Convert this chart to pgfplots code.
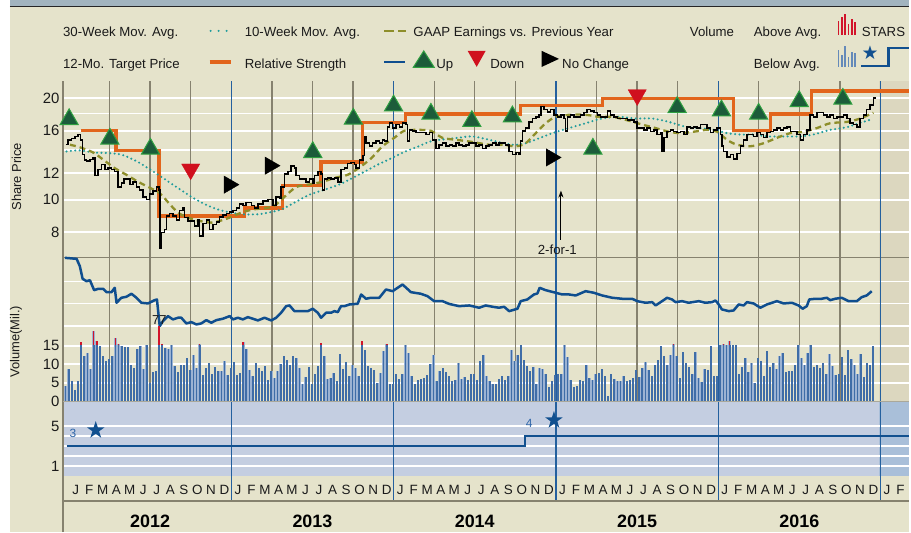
\documentclass[border=0pt]{standalone}
\usepackage{fontspec}
\setmainfont{Liberation Sans}
\newfontfamily\dejavu{DejaVu Sans}
\usepackage{pgfplots}
\usepackage{pgfplotstable}
\pgfplotsset{compat=1.18}
\usetikzlibrary{arrows.meta}

\definecolor{bg}{HTML}{E5E3CB}
\definecolor{bgdark}{HTML}{DCD7BF}
\definecolor{topband}{HTML}{A2B4BF}
\definecolor{starbg}{HTML}{C4CEE1}
\definecolor{starbgdark}{HTML}{A9BFD9}
\definecolor{gridgray}{HTML}{86826F}
\definecolor{yearblue}{HTML}{24609E}
\definecolor{tporange}{HTML}{E2651C}
\definecolor{mateal}{HTML}{1F9C9C}
\definecolor{maolive}{HTML}{8E8E2A}
\definecolor{rsblue}{HTML}{0F4E8F}
\definecolor{volblue}{HTML}{3F6DA7}
\definecolor{voledge}{HTML}{9CB3D3}
\definecolor{volred}{HTML}{D2142A}
\definecolor{upgreen}{HTML}{1C5C3A}
\definecolor{upedge}{HTML}{2FA040}
\definecolor{downred}{HTML}{D0101E}
\definecolor{txt}{HTML}{1A1A1A}
\definecolor{starline}{HTML}{11508F}
\definecolor{starlabel}{HTML}{2C64A8}

\pgfdeclareplotmark{fstar}{%
  \pgfpathmoveto{\pgfpointpolar{90}{\pgfplotmarksize}}%
  \pgfpathlineto{\pgfpointpolar{126}{0.382*\pgfplotmarksize}}%
  \pgfpathlineto{\pgfpointpolar{162}{\pgfplotmarksize}}%
  \pgfpathlineto{\pgfpointpolar{198}{0.382*\pgfplotmarksize}}%
  \pgfpathlineto{\pgfpointpolar{234}{\pgfplotmarksize}}%
  \pgfpathlineto{\pgfpointpolar{270}{0.382*\pgfplotmarksize}}%
  \pgfpathlineto{\pgfpointpolar{306}{\pgfplotmarksize}}%
  \pgfpathlineto{\pgfpointpolar{342}{0.382*\pgfplotmarksize}}%
  \pgfpathlineto{\pgfpointpolar{18}{\pgfplotmarksize}}%
  \pgfpathlineto{\pgfpointpolar{54}{0.382*\pgfplotmarksize}}%
  \pgfpathclose\pgfusepathqfill}

\pgfplotsset{
  panel/.style={scale only axis, width=848bp, xmin=2011.9625, xmax=2017.178,
    anchor=south west, axis line style={draw=none}, major tick length=0pt,
    minor tick length=0pt, xtick=\empty, ytick=\empty,
    tick label style={font=\fontsize{15}{15}\selectfont, text=txt},
    /pgf/number format/assume math mode=true},
}

% weekly volume (millions), first week of 2012 onwards
\pgfplotstableread{
v
4.0
8.8
5.4
3.1
5.6
15.9
12.3
13.0
8.7
18.9
16.2
15.0
12.3
11.0
11.4
12.3
17.1
15.5
15.0
14.6
14.6
9.9
9.0
14.1
15.0
8.8
15.3
4.9
7.8
8.1
77
15.5
14.4
14.2
15.1
9.6
7.8
9.7
9.7
11.7
8.5
12.6
9.0
15.5
7.2
9.0
10.3
7.5
9.3
8.1
8.1
11.0
7.2
9.0
10.5
7.2
7.6
15.9
14.1
8.4
6.7
10.3
9.0
8.1
9.4
5.7
8.1
6.3
8.1
10.2
12.3
11.2
9.9
12.3
11.7
9.0
4.8
6.6
9.2
4.8
7.5
9.6
15.7
12.3
6.0
6.3
7.6
5.6
12.8
8.7
10.5
6.7
9.9
9.0
6.9
16.2
13.9
9.4
9.0
8.5
4.9
7.6
13.7
15.5
4.8
4.8
7.4
6.0
7.4
15.1
13.0
6.9
4.8
5.8
6.0
6.3
7.2
10.1
12.6
5.4
8.1
9.0
7.9
6.9
5.4
5.8
10.3
6.0
6.5
5.8
7.5
7.5
5.8
11.0
12.5
6.7
5.6
4.8
4.8
6.0
6.9
5.8
6.9
13.9
10.8
12.5
15.3
11.2
9.6
8.1
9.3
4.8
9.0
8.7
7.5
3.9
5.4
7.0
7.5
7.5
15.3
12.0
5.8
3.9
4.2
5.8
5.4
9.9
6.3
5.7
7.5
7.6
8.7
6.9
1.5
7.5
6.0
5.6
5.4
6.9
5.4
5.8
6.3
8.5
6.6
9.0
10.5
8.4
6.7
9.9
11.2
15.0
12.1
9.9
12.6
15.5
12.3
6.3
13.2
10.3
9.3
7.5
13.2
6.3
5.1
8.7
8.5
15.0
6.9
6.7
15.3
15.5
15.1
16.2
15.3
15.3
7.5
9.3
11.7
7.8
10.3
4.9
11.7
11.0
6.9
13.7
9.3
10.3
8.7
12.3
13.0
7.8
8.1
8.3
9.9
15.3
11.7
9.9
13.0
15.3
9.3
9.9
9.0
10.3
7.5
12.8
9.4
7.2
7.5
12.0
7.2
13.9
11.4
9.9
7.5
12.8
6.6
10.3
9.9
15.0
}\voldata

\begin{document}
\begin{tikzpicture}
\begin{scope}[x=1bp,y=1bp]
\useasboundingbox (0,0) rectangle (911,533);
\fill[white] (0,0) rectangle (911,533);
\fill[bg] (10,0) rectangle (911,526.5);
\fill[topband] (10,527) rectangle (911,533);
\draw[black!85, line width=1.2bp] (10,526.6) -- (911,526.6);
\fill[bgdark] (881,131) rectangle (911,452);
\fill[starbg] (63,56) rectangle (911,131);
\fill[starbgdark] (881,56) rectangle (911,131);
\end{scope}

% ---------- horizontal grids & tick labels ----------
\begin{axis}[panel, at={(63bp,275bp)}, height=177bp, ymode=log, ymin=6.739, ymax=22.50,
  ytick={8,10,12,16,20}, yticklabels={8,10,12,16,20},
  extra y ticks={14,18}, extra y tick labels={}, extra y tick style={grid=major},
  ymajorgrids, grid style={white, line width=1.8bp}]
\addplot[draw=none, forget plot] coordinates {(2014,10)(2015,12)};
\end{axis}
\begin{axis}[panel, at={(63bp,206.3bp)}, height=68.7bp, ymin=8.3, ymax=77,
  ytick={8.3,31,53}, yticklabels={}, ymajorgrids, grid style={white, line width=1.6bp}]
\addplot[draw=none, forget plot] coordinates {(2014,20)(2015,30)};
\end{axis}
\begin{axis}[panel, at={(63bp,131bp)}, height=75.3bp, ymin=0, ymax=20.3,
  ytick={5,10,15}, yticklabels={5,10,15}, extra y ticks={0}, extra y tick labels={0},
  extra y tick style={grid=none},
  ymajorgrids, grid style={white, line width=1.6bp}]
\addplot[draw=none, forget plot] coordinates {(2014,5)(2015,6)};
\end{axis}
\begin{axis}[panel, at={(63bp,56bp)}, height=75bp, ymin=0, ymax=7.5,
  ytick={1,5}, yticklabels={1,5}, extra y ticks={2,3,4}, extra y tick labels={},
  extra y tick style={grid=major},
  ymajorgrids, grid style={white, line width=1.5bp}]
\addplot[draw=none, forget plot] coordinates {(2014,2)(2015,3)};
\end{axis}
\draw[gridgray, line width=1bp] (63bp,275bp) -- (911bp,275bp);

% ---------- vertical grid lines ----------
\begin{axis}[panel, at={(63bp,131bp)}, height=321bp, ymin=0, ymax=1,
  xtick={2012.25,2012.5,2012.75,2013.25,2013.5,2013.75,2014.25,2014.5,2014.75,2015.25,2015.5,2015.75,2016.25,2016.5,2016.75},
  xticklabels={}, xmajorgrids, grid style={gridgray, line width=1.3bp}]
\addplot[draw=none, forget plot] coordinates {(2014,0.2)(2015,0.4)};
\end{axis}
\begin{axis}[panel, at={(63bp,31bp)}, height=421bp, ymin=0, ymax=1,
  xtick={2013,2014,2015,2016,2017}, xticklabels={}, xmajorgrids,
  grid style={yearblue, line width=1.2bp}]
\addplot[draw=none, forget plot] coordinates {(2014,0.2)(2015,0.4)};
\end{axis}
\draw[gridgray, line width=1.5bp] (63bp,0bp) -- (63bp,452bp);
\draw[gridgray, line width=1.5bp] (63bp,31.3bp) -- (911bp,31.3bp);

% ---------- price panel ----------
\begin{axis}[panel, at={(63bp,275bp)}, height=177bp, ymode=log, ymin=6.739, ymax=22.50, clip=false]
\addplot[const plot, tporange, line width=3.2bp] coordinates {
(2012.077,16.0)(2012.290,13.97)(2012.555,8.95)(2013.081,9.45)(2013.317,11.0)(2013.553,12.93)
(2013.806,16.95)(2014.072,17.94)(2014.783,19.02)(2015.285,20.0)(2016.095,16.0)(2016.321,17.94)
(2016.573,21.0)(2017.178,21.0)};
\addplot[mateal, line width=2.3bp, dash pattern=on 0pt off 4.4bp, line cap=round, smooth] coordinates {
(2011.985,13.9)(2012.067,14.0)(2012.149,13.8)(2012.231,13.75)(2012.323,13.6)(2012.416,13.0)
(2012.498,12.3)(2012.579,11.6)(2012.662,10.9)(2012.754,10.2)(2012.836,9.7)(2012.918,9.35)
(2013.000,9.15)(2013.082,9.05)(2013.164,9.05)(2013.225,9.15)(2013.307,9.35)(2013.389,9.8)
(2013.482,10.35)(2013.574,10.7)(2013.666,11.1)(2013.748,11.6)(2013.820,12.1)(2013.902,12.7)
(2013.984,13.25)(2014.066,13.85)(2014.148,14.35)(2014.230,14.9)(2014.312,15.1)(2014.394,15.25)
(2014.486,15.4)(2014.589,15.05)(2014.732,14.55)(2014.814,14.7)(2014.896,15.2)(2014.978,15.75)
(2015.081,16.3)(2015.183,16.85)(2015.285,17.4)(2015.388,17.6)(2015.491,17.4)(2015.593,17.4)
(2015.696,17.0)(2015.808,16.4)(2015.891,16.3)(2015.972,16.1)(2016.054,15.75)(2016.137,15.6)
(2016.218,15.6)(2016.300,15.4)(2016.403,15.4)(2016.506,15.4)(2016.587,15.6)(2016.690,16.1)
(2016.792,16.4)(2016.875,16.9)(2016.936,17.25)};
\addplot[maolive, line width=2.3bp, dash pattern=on 6bp off 4bp, smooth] coordinates {
(2012.006,14.55)(2012.067,14.3)(2012.149,13.8)(2012.210,13.15)(2012.282,12.4)(2012.354,11.85)
(2012.426,11.3)(2012.498,10.85)(2012.559,10.45)(2012.621,9.7)(2012.672,9.15)(2012.733,8.85)
(2012.805,8.65)(2012.877,8.55)(2012.928,8.65)(2012.990,8.85)(2013.061,9.15)(2013.133,9.35)
(2013.215,9.45)(2013.266,9.6)(2013.328,10.2)(2013.400,10.9)(2013.482,11.1)(2013.563,11.3)
(2013.635,11.6)(2013.717,11.85)(2013.789,12.45)(2013.861,13.25)(2013.932,14.4)(2014.004,15.25)
(2014.066,16.0)(2014.148,16.1)(2014.230,16.0)(2014.301,15.25)(2014.384,15.05)(2014.476,14.85)
(2014.589,14.55)(2014.670,14.55)(2014.753,14.4)(2014.814,14.7)(2014.876,15.75)(2014.937,16.85)
(2014.999,17.6)(2015.081,17.85)(2015.183,17.85)(2015.265,17.6)(2015.347,17.6)(2015.429,17.25)
(2015.531,16.7)(2015.614,16.3)(2015.696,15.9)(2015.768,15.75)(2015.849,15.9)(2015.931,16.1)
(2015.993,15.9)(2016.054,15.05)(2016.116,14.55)(2016.198,14.4)(2016.280,14.7)(2016.362,15.25)
(2016.444,15.75)(2016.526,15.9)(2016.608,16.3)(2016.690,16.85)(2016.792,17.0)(2016.875,17.4)
(2016.956,18.1)};
\addplot[const plot, black, line width=1.5bp] coordinates {
(2011.981,14.55)(2011.995,15.05)(2012.016,15.2)(2012.036,15.4)(2012.057,15.6)(2012.071,15.05)
(2012.084,13.6)(2012.096,13.1)(2012.108,13.0)(2012.129,13.15)(2012.149,13.3)(2012.159,11.8)
(2012.180,12.3)(2012.200,12.7)(2012.221,12.3)(2012.241,12.4)(2012.262,12.3)(2012.282,12.1)
(2012.303,10.9)(2012.323,11.2)(2012.338,11.5)(2012.354,11.5)(2012.375,11.1)(2012.395,11.3)
(2012.416,10.9)(2012.436,10.7)(2012.456,10.2)(2012.477,10.0)(2012.497,10.4)(2012.518,10.6)
(2012.539,10.9)(2012.555,10.7)(2012.562,7.2)(2012.569,8.0)(2012.590,8.15)(2012.600,8.95)
(2012.620,9.1)(2012.641,8.95)(2012.662,8.7)(2012.682,9.3)(2012.702,9.45)(2012.713,8.85)
(2012.733,8.65)(2012.754,8.65)(2012.774,8.35)(2012.795,8.7)(2012.805,7.8)(2012.825,8.5)
(2012.846,8.7)(2012.867,8.15)(2012.887,8.45)(2012.908,8.6)(2012.928,8.9)(2012.948,9.0)
(2012.969,9.1)(2012.990,9.2)(2013.010,9.3)(2013.031,9.45)(2013.051,9.7)(2013.072,9.6)
(2013.092,9.8)(2013.123,9.6)(2013.143,9.45)(2013.164,9.7)(2013.194,9.9)(2013.225,10.0)
(2013.236,10.0)(2013.256,9.6)(2013.277,10.2)(2013.297,10.1)(2013.307,10.9)(2013.328,11.9)
(2013.348,12.1)(2013.369,12.6)(2013.389,12.4)(2013.400,11.8)(2013.420,11.5)(2013.440,11.5)
(2013.461,11.3)(2013.482,11.5)(2013.502,11.2)(2013.512,11.8)(2013.533,12.1)(2013.553,11.9)
(2013.563,10.7)(2013.574,11.5)(2013.594,11.6)(2013.615,11.5)(2013.635,11.6)(2013.656,11.3)
(2013.676,12.3)(2013.697,12.4)(2013.717,12.8)(2013.738,12.9)(2013.758,12.7)(2013.769,12.4)
(2013.789,13.1)(2013.810,13.5)(2013.820,15.4)(2013.830,14.7)(2013.851,14.4)(2013.871,14.7)
(2013.892,14.9)(2013.912,14.7)(2013.932,15.05)(2013.943,14.9)(2013.963,16.4)(2013.974,16.9)
(2013.994,16.3)(2014.015,16.7)(2014.035,16.4)(2014.055,16.9)(2014.076,16.7)(2014.086,14.9)
(2014.097,16.1)(2014.117,16.0)(2014.138,15.8)(2014.158,15.8)(2014.178,15.8)(2014.199,15.6)
(2014.220,15.8)(2014.240,15.05)(2014.261,14.2)(2014.281,14.5)(2014.301,14.7)(2014.322,14.4)
(2014.343,14.5)(2014.363,14.4)(2014.384,14.7)(2014.404,14.5)(2014.424,14.4)(2014.445,14.5)
(2014.466,14.7)(2014.486,14.7)(2014.507,14.4)(2014.527,14.5)(2014.547,14.2)(2014.568,14.4)
(2014.589,14.5)(2014.609,14.7)(2014.630,14.5)(2014.650,14.7)(2014.671,14.7)(2014.691,14.5)
(2014.712,13.9)(2014.732,13.6)(2014.753,13.8)(2014.773,13.6)(2014.783,14.9)(2014.793,16.0)
(2014.814,16.3)(2014.834,17.0)(2014.855,17.4)(2014.876,17.6)(2014.896,17.85)(2014.907,18.9)
(2014.927,18.5)(2014.947,18.2)(2014.968,18.5)(2014.988,17.85)(2015.009,17.6)(2015.030,17.85)
(2015.050,17.4)(2015.060,16.0)(2015.070,17.6)(2015.091,17.85)(2015.111,17.6)(2015.132,17.6)
(2015.153,17.85)(2015.173,18.1)(2015.193,18.5)(2015.214,18.3)(2015.234,18.1)(2015.255,17.85)
(2015.276,17.6)(2015.296,17.6)(2015.317,18.3)(2015.337,17.85)(2015.357,17.6)(2015.378,17.4)
(2015.399,17.4)(2015.419,17.4)(2015.440,17.2)(2015.460,17.2)(2015.480,17.0)(2015.501,16.3)
(2015.522,16.3)(2015.542,16.1)(2015.562,16.3)(2015.583,15.9)(2015.603,16.1)(2015.624,15.6)
(2015.645,15.8)(2015.655,13.9)(2015.665,15.3)(2015.685,15.9)(2015.706,16.1)(2015.726,15.9)
(2015.747,15.8)(2015.768,15.9)(2015.788,15.6)(2015.808,16.4)(2015.829,16.3)(2015.849,16.4)
(2015.870,16.3)(2015.891,16.7)(2015.911,16.7)(2015.931,16.3)(2015.952,15.8)(2015.972,16.1)
(2015.993,16.3)(2016.014,15.6)(2016.024,14.4)(2016.034,13.9)(2016.054,13.4)(2016.075,13.6)
(2016.095,13.2)(2016.116,13.7)(2016.137,14.4)(2016.157,15.05)(2016.177,15.6)(2016.198,15.6)
(2016.218,15.4)(2016.239,15.8)(2016.260,15.6)(2016.280,15.3)(2016.301,15.8)(2016.321,15.9)
(2016.341,16.1)(2016.362,16.3)(2016.383,16.1)(2016.403,16.3)(2016.423,16.4)(2016.444,15.9)
(2016.465,15.9)(2016.485,15.6)(2016.506,15.05)(2016.526,15.6)(2016.546,16.1)(2016.567,17.85)
(2016.587,17.6)(2016.608,18.1)(2016.629,18.1)(2016.649,17.85)(2016.670,17.6)(2016.690,17.85)
(2016.710,17.4)(2016.731,17.6)(2016.752,17.6)(2016.772,17.85)(2016.793,17.4)(2016.813,16.9)
(2016.833,16.7)(2016.854,16.4)(2016.875,17.4)(2016.895,17.85)(2016.915,18.5)(2016.936,19.1)
(2016.956,20.0)(2016.967,20.1)};
\addplot[only marks, mark=triangle*, mark size=10.5bp,
  mark options={fill=upgreen, draw=upedge, line width=1bp}] coordinates {
(2012.001,17.3)(2012.252,15.14)(2012.502,14.14)(2013.502,13.82)(2013.752,17.35)(2014.000,19.0)
(2014.230,17.95)(2014.482,17.08)(2014.732,17.63)(2015.228,14.14)(2015.747,18.78)(2016.020,18.37)
(2016.249,17.95)(2016.499,19.57)(2016.768,19.88)};
\addplot[only marks, mark=triangle*, mark size=10.5bp,
  mark options={rotate=180, fill=downred, draw=downred}] coordinates {
(2012.750,12.31)(2015.501,20.43)};
\addplot[only marks, mark=triangle*, mark size=10bp,
  mark options={rotate=-90, fill=black, draw=black}] coordinates {
(2012.986,11.08)(2013.239,12.61)(2014.971,13.34)};
\draw[-{Stealth[length=7bp,width=5bp]}, line width=1bp] (axis cs:2015.031,7.62) -- (axis cs:2015.031,10.64);
\node[font=\fontsize{13.3}{14}\selectfont, text=txt] at (axis cs:2015.009,7.11) {2-for-1};
\end{axis}

% ---------- relative strength ----------
\begin{axis}[panel, at={(63bp,206.3bp)}, height=68.7bp, ymin=8.3, ymax=77, clip=false]
\addplot[rsblue, line width=2.5bp, line join=round] coordinates {
(2011.975,76.7)(2012.047,75.7)(2012.067,68.3)(2012.084,55.7)(2012.108,53.3)(2012.129,54.3)
(2012.155,44.3)(2012.180,45.7)(2012.210,45.7)(2012.231,42.3)(2012.262,42.3)(2012.282,46.7)
(2012.293,31.7)(2012.323,36.7)(2012.354,37.7)(2012.385,40.7)(2012.416,36.7)(2012.446,31.7)
(2012.487,31.0)(2012.528,34.3)(2012.542,35.0)(2012.559,8.3)(2012.579,13.3)(2012.610,18.3)
(2012.641,15.0)(2012.672,16.7)(2012.692,16.7)(2012.723,11.0)(2012.754,12.3)(2012.785,10.0)
(2012.815,11.0)(2012.846,14.3)(2012.877,11.7)(2012.908,14.3)(2012.948,15.7)(2012.990,18.3)
(2013.010,15.0)(2013.041,16.7)(2013.071,15.0)(2013.102,17.3)(2013.133,15.7)(2013.164,14.0)
(2013.205,16.7)(2013.246,14.0)(2013.277,16.7)(2013.307,21.7)(2013.338,28.3)(2013.359,29.0)
(2013.389,23.3)(2013.430,23.3)(2013.471,23.3)(2013.502,25.7)(2013.533,21.7)(2013.553,16.7)
(2013.584,21.7)(2013.615,21.7)(2013.635,23.3)(2013.656,22.3)(2013.676,28.3)(2013.697,28.3)
(2013.728,30.0)(2013.779,30.7)(2013.800,40.0)(2013.830,35.7)(2013.861,36.7)(2013.912,36.7)
(2013.953,45.0)(2013.994,43.3)(2014.055,50.0)(2014.107,42.3)(2014.168,40.7)(2014.209,38.3)
(2014.250,33.3)(2014.301,33.3)(2014.343,30.5)(2014.404,28.3)(2014.466,29.0)(2014.527,26.7)
(2014.568,29.0)(2014.609,27.7)(2014.650,26.7)(2014.681,27.7)(2014.712,23.3)(2014.763,25.7)
(2014.783,33.3)(2014.824,35.0)(2014.865,40.0)(2014.886,41.0)(2014.900,46.7)(2014.937,44.3)
(2014.999,41.7)(2015.039,40.0)(2015.081,40.0)(2015.122,39.0)(2015.183,43.3)(2015.234,41.7)
(2015.285,39.0)(2015.347,36.7)(2015.408,35.7)(2015.470,35.7)(2015.501,33.3)(2015.552,31.7)
(2015.593,32.3)(2015.614,29.0)(2015.654,33.3)(2015.685,36.7)(2015.716,35.0)(2015.737,32.3)
(2015.777,33.3)(2015.818,31.7)(2015.880,33.3)(2015.921,31.7)(2015.962,32.3)(2015.983,34.0)
(2016.003,30.0)(2016.023,25.0)(2016.065,23.3)(2016.095,24.0)(2016.126,30.0)(2016.157,29.0)
(2016.177,32.3)(2016.218,31.0)(2016.260,26.7)(2016.300,30.0)(2016.362,33.3)(2016.403,31.0)
(2016.454,31.7)(2016.495,29.0)(2016.520,25.7)(2016.546,28.3)(2016.561,35.0)(2016.598,35.7)
(2016.638,35.7)(2016.669,36.7)(2016.690,34.3)(2016.721,35.7)(2016.761,36.7)(2016.803,33.3)
(2016.854,33.3)(2016.884,37.3)(2016.915,39.0)(2016.946,43.3)};
\end{axis}

% ---------- volume: full bars (above-average part shows red) ----------
\begin{axis}[panel, at={(63bp,131bp)}, height=75.3bp, ymin=0, ymax=20.3, clip mode=individual]
\addplot[ycomb, voledge, line width=2.5bp] table[x expr=2011.979+\coordindex*0.01921, y=v] {\voldata};
\addplot[ycomb, volred, line width=1.6bp] table[x expr=2011.979+\coordindex*0.01921, y=v] {\voldata};
\node[font=\fontsize{13}{13}\selectfont, text=txt] at (axis cs:2012.557,21.9) {77};
\end{axis}
% same bars, clipped at 15 million, in blue
\begin{axis}[panel, at={(63bp,131bp)}, height=55.64bp, ymin=0, ymax=15, clip=true]
\addplot[ycomb, volblue, line width=1.8bp] table[x expr=2011.979+\coordindex*0.01921, y=v] {\voldata};
\end{axis}
\draw[gridgray!70, line width=1bp] (63bp,131bp) -- (911bp,131bp);

% ---------- STARS ----------
\begin{axis}[panel, at={(63bp,56bp)}, height=75bp, ymin=0, ymax=7.5, clip=false]
\addplot[const plot, starline, line width=2.4bp] coordinates {(2011.985,3)(2014.810,4)(2017.178,4)};
\addplot[only marks, mark=fstar, mark size=9.2bp, starline] coordinates {(2012.165,4.6)(2014.988,5.6)};
\node[font=\fontsize{12}{12}\selectfont, text=starlabel] at (axis cs:2012.025,4.27) {3};
\node[font=\fontsize{12}{12}\selectfont, text=starlabel] at (axis cs:2014.835,5.3) {4};
\end{axis}

% ---------- month & year labels ----------
\begin{axis}[panel, at={(63bp,31bp)}, height=25bp, ymin=0, ymax=25, clip=false,
  xtick={2012.041667,2012.125,...,2017.13},
  xticklabels={J,F,M,A,M,J,J,A,S,O,N,D,J,F,M,A,M,J,J,A,S,O,N,D,J,F,M,A,M,J,J,A,S,O,N,D,J,F,M,A,M,J,J,A,S,O,N,D,J,F,M,A,M,J,J,A,S,O,N,D,J,F},
  xticklabel style={anchor=base, yshift=7bp, font=\fontsize{13.5}{13.5}\selectfont}]
\addplot[draw=none, forget plot] coordinates {(2014,5)(2015,6)};
\node[font=\bfseries\fontsize{18}{18}\selectfont, text=black, anchor=base] at (axis cs:2012.5,-26.3) {2012};
\node[font=\bfseries\fontsize{18}{18}\selectfont, text=black, anchor=base] at (axis cs:2013.5,-26.3) {2013};
\node[font=\bfseries\fontsize{18}{18}\selectfont, text=black, anchor=base] at (axis cs:2014.5,-26.3) {2014};
\node[font=\bfseries\fontsize{18}{18}\selectfont, text=black, anchor=base] at (axis cs:2015.5,-26.3) {2015};
\node[font=\bfseries\fontsize{18}{18}\selectfont, text=black, anchor=base] at (axis cs:2016.5,-26.3) {2016};
\end{axis}

\begin{scope}[x=1bp,y=1bp]
\node[rotate=90, font=\fontsize{13}{13}\selectfont, text=txt] at (16.5,356) {Share Price};
\node[rotate=90, font=\fontsize{13}{13}\selectfont, text=txt] at (16,190.5) {Volume(Mil.)};
\begin{scope}[every node/.style={anchor=base west, inner sep=0pt, font=\fontsize{13.3}{16}\selectfont, text=txt}]
\node at (63,496.3) {30-Week Mov. Avg.};
\node at (245,496.3) {10-Week Mov. Avg.};
\node at (414,496.3) {GAAP Earnings vs. Previous Year};
\node at (691,496.3) {Volume};
\node at (755,496.3) {Above Avg.};
\node at (863.3,496.3) {STARS};
\node at (63,464.7) {12-Mo. Target Price};
\node at (245,464.7) {Relative Strength};
\node at (437,464.7) {Up};
\node at (491,464.7) {Down};
\node at (563,464.7) {No Change};
\node at (755,464.7) {Below Avg.};
\end{scope}
\draw[mateal, line width=2.3bp, dash pattern=on 0pt off 8bp, line cap=round] (211,502) -- (228,502);
\draw[maolive, line width=2.5bp, dash pattern=on 10bp off 4bp] (385,502) -- (407,502);
\draw[tporange, line width=3.5bp] (210,471) -- (231.7,471);
\draw[rsblue, line width=2.5bp] (385,471) -- (406,471);
\filldraw[fill=upgreen, draw=upedge, line width=1bp] (414,465.5) -- (435,465.5) -- (424.5,482) -- cycle;
\fill[downred] (468.5,482) -- (486.5,482) -- (477.5,466) -- cycle;
\fill[black] (542.7,482) -- (542.7,466) -- (560,474) -- cycle;
\foreach \xx/\tt in {840/512,843.3/516,846.7/519,850/509,853.3/514,856.7/511}{
  \draw[volred, line width=1.6bp] (\xx,498) -- (\xx,\tt);
}
\foreach \xx/\tt in {840/483,843.3/478,846.7/487,850/476.3,853.3/481.3,856.7/479.7}{
  \draw[volblue!80!white, line width=1.6bp] (\xx,466.3) -- (\xx,\tt);
}
\node[font=\dejavu\fontsize{19}{19}\selectfont, text=starline, inner sep=0pt] at (871.5,480) {★};
\draw[starline, line width=2.5bp] (863,467) -- (890,467) -- (890,485) -- (911,485);
\end{scope}
\end{tikzpicture}
\end{document}
